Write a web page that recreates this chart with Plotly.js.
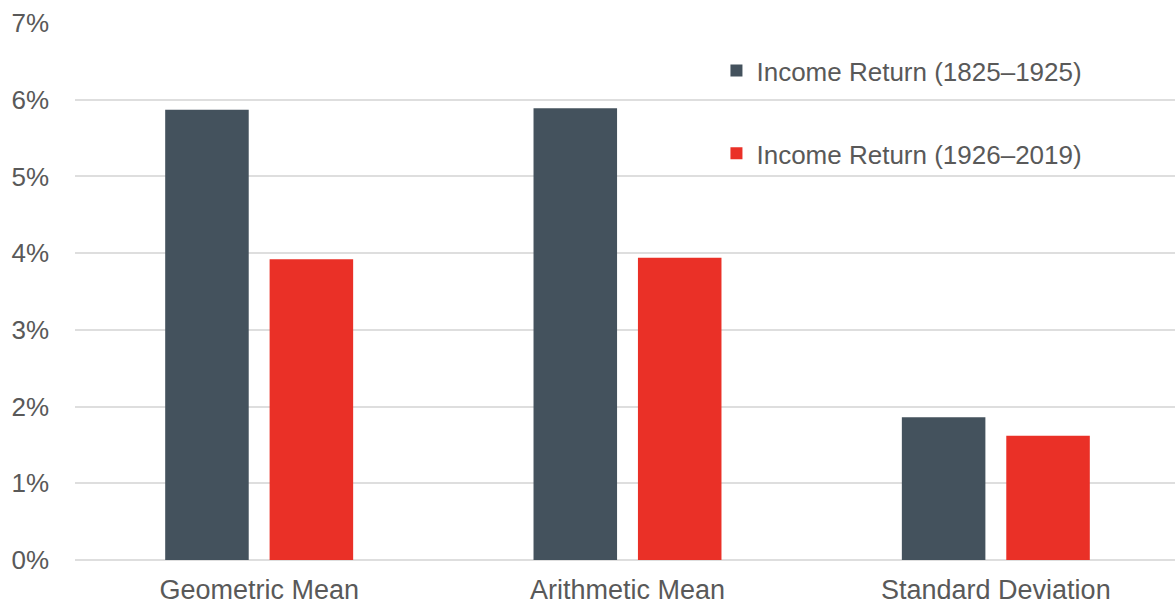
<!DOCTYPE html>
<html>
<head>
<meta charset="utf-8">
<script src="https://cdn.plot.ly/plotly-3.0.1.min.js"></script>
<style>html,body{margin:0;padding:0;background:#fff;overflow:hidden;}#chart{width:1180px;height:605px;}</style>
</head>
<body>
<div id="chart"></div>
<script>
const categories = ["Geometric Mean", "Arithmetic Mean", "Standard Deviation"];
const seriesNames = ["Income Return (1825\u20131925)", "Income Return (1926\u20132019)"];
const income1825 = [5.87, 5.89, 1.86];
const income1926 = [3.92, 3.94, 1.62];
const yTickVals = [0, 1, 2, 3, 4, 5, 6, 7];
const yTickText = ["0%", "1%", "2%", "3%", "4%", "5%", "6%", "7%"];

const font = "Liberation Sans, Arial, sans-serif";
const textColor = "#595959";

const traces = [
  {type: "bar", name: seriesNames[0], x: categories, y: income1825, marker: {color: "#44525d"}, legendgroup: "a", hoverinfo: "none"},
  {type: "bar", name: seriesNames[1], x: categories, y: income1926, marker: {color: "#ea3027"}, legendgroup: "b", hoverinfo: "none"}
];

const layout = {
  width: 1180, height: 605,
  margin: {l: 75, r: 0, t: 23, b: 45},
  paper_bgcolor: "#fff", plot_bgcolor: "#fff",
  barmode: "group", bargap: 0.433, bargroupgap: 0.2,
  font: {family: font, color: textColor},
  xaxis: {
    type: "category", showgrid: false, zeroline: false, showline: false,
    tickfont: {size: 27, color: textColor}, ticks: "", ticklabelstandoff: 11
  },
  yaxis: {
    range: [0, 7], tickvals: yTickVals, ticktext: yTickText,
    showgrid: true, gridcolor: "#dedede", gridwidth: 2,
    zeroline: true, zerolinecolor: "#dedede", zerolinewidth: 2,
    showline: false, ticks: "", ticklabelstandoff: 25,
    tickfont: {size: 26, color: textColor}
  },
  showlegend: true,
  legend: {
    x: 0.5805, xanchor: "left", y: 0.955, yanchor: "top",
    font: {size: 26, color: textColor}, bgcolor: "rgba(0,0,0,0)",
    traceorder: "grouped", tracegroupgap: 46, itemclick: false
  }
};

Plotly.newPlot("chart", traces, layout, {staticPlot: true, displayModeBar: false});
</script>
</body>
</html>
